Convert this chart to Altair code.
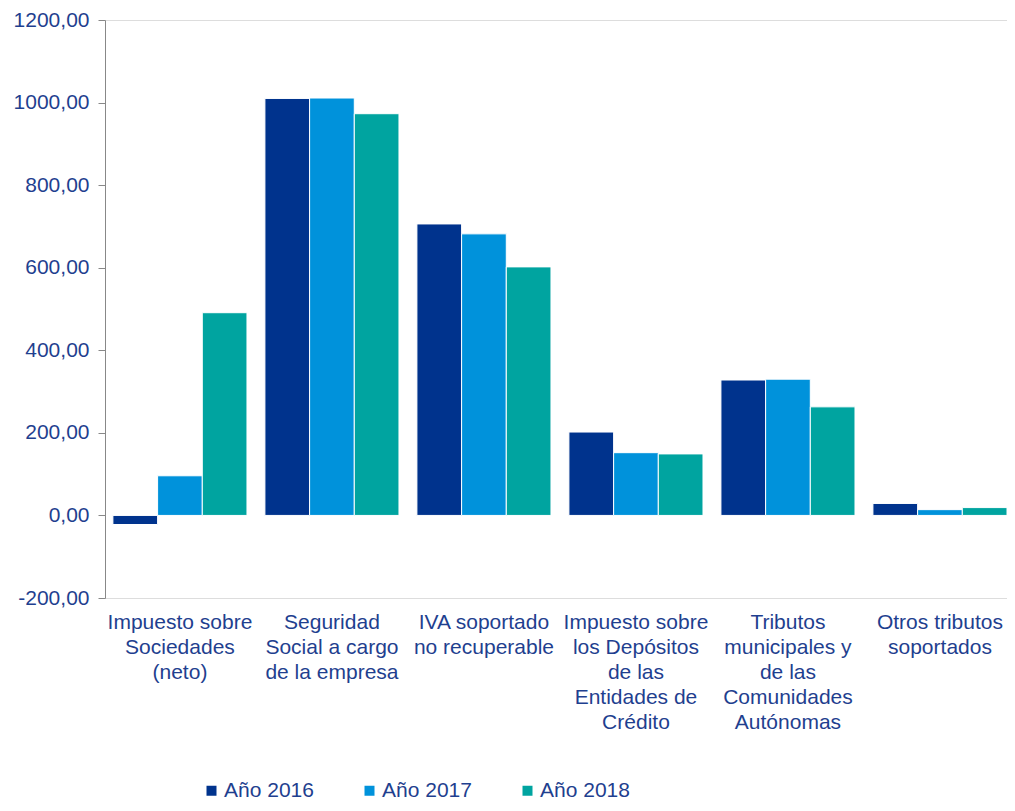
import altair as alt
import pandas as pd

categories = [
    "Impuesto sobre|Sociedades|(neto)",
    "Seguridad|Social a cargo|de la empresa",
    "IVA soportado|no recuperable",
    "Impuesto sobre|los Depósitos|de las|Entidades de|Crédito",
    "Tributos|municipales y|de las|Comunidades|Autónomas",
    "Otros tributos|soportados",
]
years = ["Año 2016", "Año 2017", "Año 2018"]
v2016 = [-22, 1010, 706, 202, 328, 29]
v2017 = [96, 1011, 682, 152, 330, 14]
v2018 = [491, 973, 602, 149, 263, 19]
colors = ["#00338d", "#0092db", "#00a4a0"]
y_ticks = [-200, 0, 200, 400, 600, 800, 1000, 1200]

rows = []
for yr, vals in zip(years, [v2016, v2017, v2018]):
    for c, v in zip(categories, vals):
        rows.append({"cat": c, "year": yr, "value": v})
df = pd.DataFrame(rows)

TXT = "#1f3f8f"
FONT = "Liberation Sans"

chart = alt.Chart(df).mark_bar(stroke="white", strokeWidth=1).encode(
    x=alt.X("cat:N", sort=categories, title=None,
            scale=alt.Scale(paddingInner=0.118, paddingOuter=0.026, align=1),
            axis=alt.Axis(labelAngle=0, domain=False, ticks=False, labelPadding=13,
                          labelExpr="split(datum.label, '|')", labelLimit=0,
                          labelLineHeight=25, labelFontSize=21, labelColor=TXT,
                          labelFont=FONT, labelAlign="center", labelBaseline="top",
                          labelOverlap=False)),
    xOffset=alt.XOffset("year:N", sort=years, scale=alt.Scale(paddingInner=0, paddingOuter=0)),
    y=alt.Y("value:Q", title=None,
            scale=alt.Scale(domain=[-200, 1200], nice=False, zero=False),
            axis=alt.Axis(values=y_ticks, grid=False, domainColor="#888888",
                          tickColor="#888888", tickSize=7, labelPadding=9,
                          labelFontSize=21, labelColor=TXT, labelFont=FONT,
                          labelExpr="(datum.value < 0 ? '-' : '') + replace(format(abs(datum.value), '.2f'), '.', ',')")),
    color=alt.Color("year:N", sort=years, scale=alt.Scale(domain=years, range=colors),
                    legend=alt.Legend(title=None, orient="none", direction="horizontal",
                                      legendX=96, legendY=760, symbolType="square",
                                      symbolSize=100, symbolStrokeWidth=0,
                                      labelFontSize=21, labelColor=TXT, labelFont=FONT,
                                      labelOffset=2, columnPadding=45, padding=0)),
).properties(
    width=902, height=578,
    autosize=alt.AutoSizeParams(type="none"),
    padding={"left": 97, "top": 12, "right": 0, "bottom": 205},
).configure_view(stroke=None).configure(font=FONT)

chart.save("out.html", embed_options={"renderer": "svg", "actions": False})
